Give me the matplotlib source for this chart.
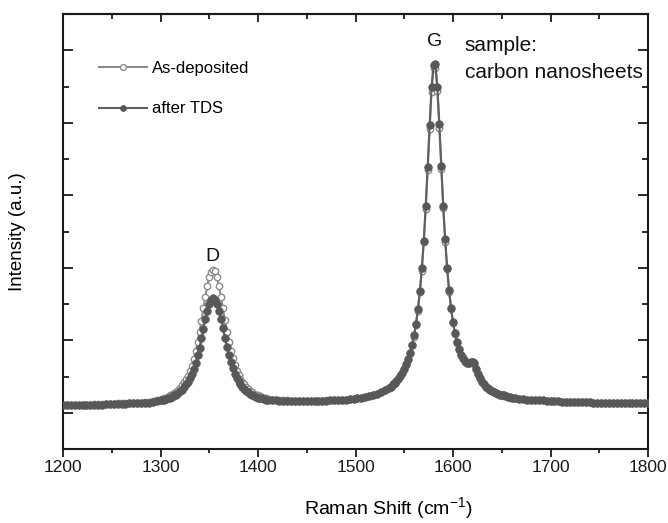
import numpy as np
import matplotlib
matplotlib.use("Agg")
import matplotlib.pyplot as plt
from matplotlib.ticker import MultipleLocator, NullFormatter

plt.rcParams['font.family'] = ['Liberation Sans', 'DejaVu Sans']
plt.rcParams['mathtext.fontset'] = 'custom'
plt.rcParams['mathtext.rm'] = 'Liberation Sans'

# Raman shift grid (cm^-1): coarser in flat parts, finer over the D and G bands
raman_shift = np.concatenate([
    np.arange(1200, 1297, 4),
    np.arange(1300, 1411, 2),
    np.arange(1414, 1535, 4),
    np.arange(1536, 1661, 2),
    np.arange(1664, 1801, 4),
])

as_deposited = [
    # 1200-1296
    1.11, 1.11, 1.11, 1.11, 1.11, 1.11, 1.11, 1.11, 1.12, 1.12, 1.12, 1.12, 1.12,
    1.12, 1.13, 1.13, 1.13, 1.13, 1.14, 1.14, 1.14, 1.15, 1.15, 1.16, 1.17,
    # 1300-1410
    1.18, 1.19, 1.20, 1.21, 1.22, 1.24, 1.25, 1.27, 1.29, 1.31, 1.34, 1.38, 1.42,
    1.47, 1.51, 1.57, 1.65, 1.74, 1.85, 1.97, 2.12, 2.27, 2.44, 2.60, 2.75, 2.87,
    2.94, 2.97, 2.95, 2.87, 2.75, 2.60, 2.44, 2.28, 2.12, 1.97, 1.85, 1.75, 1.66,
    1.58, 1.52, 1.47, 1.43, 1.39, 1.35, 1.33, 1.30, 1.28, 1.26, 1.25, 1.24, 1.23,
    1.21, 1.21, 1.20, 1.19,
    # 1414-1534
    1.18, 1.18, 1.17, 1.17, 1.17, 1.16, 1.16, 1.16, 1.16, 1.16, 1.16, 1.16, 1.16,
    1.16, 1.17, 1.17, 1.17, 1.17, 1.18, 1.18, 1.19, 1.19, 1.20, 1.21, 1.22, 1.23,
    1.24, 1.26, 1.28, 1.31, 1.34,
    # 1536-1660
    1.36, 1.38, 1.41, 1.44, 1.47, 1.51, 1.55, 1.60, 1.66, 1.73, 1.82, 1.93, 2.05,
    2.21, 2.41, 2.66, 2.96, 3.35, 3.81, 4.35, 4.92, 5.43, 5.75, 5.75, 5.44, 4.93,
    4.36, 3.82, 3.36, 2.98, 2.67, 2.43, 2.24, 2.08, 1.96, 1.87, 1.79, 1.74, 1.70,
    1.68, 1.68, 1.70, 1.70, 1.67, 1.61, 1.54, 1.48, 1.43, 1.39, 1.36, 1.33, 1.31,
    1.30, 1.28, 1.27, 1.26, 1.25, 1.24, 1.23, 1.23, 1.22, 1.22, 1.21,
    # 1664-1800
    1.20, 1.19, 1.19, 1.18, 1.18, 1.17, 1.17, 1.17, 1.16, 1.16, 1.16, 1.16, 1.15,
    1.15, 1.15, 1.15, 1.15, 1.15, 1.15, 1.15, 1.14, 1.14, 1.14, 1.14, 1.14, 1.14,
    1.14, 1.14, 1.14, 1.14, 1.14, 1.14, 1.14, 1.14, 1.14,
]

after_tds = [
    # 1200-1296
    1.11, 1.11, 1.11, 1.11, 1.11, 1.11, 1.11, 1.11, 1.11, 1.11, 1.11, 1.12, 1.12,
    1.12, 1.12, 1.12, 1.12, 1.13, 1.13, 1.13, 1.14, 1.14, 1.14, 1.15, 1.16,
    # 1300-1410
    1.17, 1.17, 1.18, 1.19, 1.20, 1.21, 1.22, 1.24, 1.25, 1.27, 1.30, 1.32, 1.36,
    1.39, 1.43, 1.48, 1.54, 1.61, 1.69, 1.79, 1.90, 2.03, 2.16, 2.29, 2.41, 2.50,
    2.56, 2.58, 2.56, 2.50, 2.41, 2.29, 2.17, 2.03, 1.91, 1.79, 1.70, 1.62, 1.54,
    1.48, 1.44, 1.40, 1.36, 1.33, 1.30, 1.28, 1.26, 1.25, 1.23, 1.22, 1.21, 1.20,
    1.20, 1.19, 1.18, 1.18,
    # 1414-1534
    1.17, 1.17, 1.16, 1.16, 1.16, 1.16, 1.16, 1.16, 1.16, 1.16, 1.16, 1.16, 1.16,
    1.16, 1.16, 1.17, 1.17, 1.17, 1.18, 1.18, 1.19, 1.19, 1.20, 1.21, 1.22, 1.23,
    1.24, 1.26, 1.28, 1.31, 1.34,
    # 1536-1660
    1.36, 1.39, 1.41, 1.44, 1.47, 1.51, 1.55, 1.61, 1.67, 1.74, 1.83, 1.94, 2.07,
    2.23, 2.43, 2.68, 2.99, 3.37, 3.85, 4.39, 4.97, 5.49, 5.80, 5.81, 5.49, 4.98,
    4.40, 3.85, 3.39, 3.00, 2.69, 2.45, 2.25, 2.10, 1.97, 1.88, 1.80, 1.75, 1.71,
    1.69, 1.69, 1.70, 1.70, 1.68, 1.61, 1.54, 1.48, 1.43, 1.39, 1.36, 1.34, 1.32,
    1.30, 1.28, 1.27, 1.26, 1.25, 1.24, 1.24, 1.23, 1.22, 1.22, 1.21,
    # 1664-1800
    1.20, 1.19, 1.19, 1.18, 1.18, 1.17, 1.17, 1.17, 1.16, 1.16, 1.16, 1.16, 1.15,
    1.15, 1.15, 1.15, 1.15, 1.15, 1.15, 1.15, 1.14, 1.14, 1.14, 1.14, 1.14, 1.14,
    1.14, 1.14, 1.14, 1.14, 1.14, 1.14, 1.14, 1.14, 1.14,
]

series_labels = ["As-deposited", "after TDS"]
x_ticks = [1200, 1300, 1400, 1500, 1600, 1700, 1800]
peak_labels = [("D", 1353, 3.16), ("G", 1581, 6.12)]

fig = plt.figure(figsize=(6.68, 5.23), dpi=100)
ax = fig.add_axes([63 / 668, 74 / 523, 585 / 668, 435 / 523])

line_a, = ax.plot(raman_shift, as_deposited, color='#8c8c8c', lw=1.5, marker='o',
                  ms=4.6, mfc='white', mec='#8c8c8c', mew=1.0, zorder=2)
line_t, = ax.plot(raman_shift, after_tds, color='#606060', lw=1.5, marker='o',
                  ms=5.4, mfc='#585858', mec='#585858', mew=0.6, zorder=3)

ax.set_xlim(1200, 1800)
ax.set_ylim(0.5, 6.5)

ax.set_xticks(x_ticks)
ax.xaxis.set_minor_locator(MultipleLocator(50))
ax.yaxis.set_major_locator(MultipleLocator(1))
ax.yaxis.set_minor_locator(MultipleLocator(0.5))
ax.yaxis.set_major_formatter(NullFormatter())

ax.tick_params(axis='x', which='major', direction='out', length=6, width=1.3,
               labelsize=12.5, pad=2, colors='#1a1a1a')
ax.tick_params(axis='x', which='minor', direction='out', length=3, width=1.3,
               colors='#1a1a1a')
ax.tick_params(axis='y', which='major', direction='in', length=7, width=1.3,
               left=True, right=True, labelleft=False, colors='#1a1a1a')
ax.tick_params(axis='y', which='minor', direction='in', length=4, width=1.3,
               left=True, right=True, colors='#1a1a1a')

sec = ax.secondary_xaxis('top')
sec.set_xticks(x_ticks)
sec.xaxis.set_minor_locator(MultipleLocator(50))
sec.tick_params(axis='x', which='major', direction='in', length=6, width=1.3,
                labeltop=False, colors='#1a1a1a')
sec.tick_params(axis='x', which='minor', direction='in', length=3.5, width=1.3,
                colors='#1a1a1a')
for sp in sec.spines.values():
    sp.set_linewidth(1.5)
    sp.set_color('#1a1a1a')

for sp in ax.spines.values():
    sp.set_linewidth(1.5)
    sp.set_color('#1a1a1a')

ax.set_xlabel(r'Raman Shift (cm$^{\mathregular{-1}}$)', fontsize=14, va='center')
ax.xaxis.set_label_coords((388 - 63) / 585, (449 - 509) / 435)
ax.set_ylabel('Intensity (a.u.)', fontsize=13.5, va='center')
ax.yaxis.set_label_coords((18 - 63) / 585, 0.5)

for txt, xv, yv in peak_labels:
    ax.text(xv, yv, txt, fontsize=14, ha='center', va='center', color='#111111')

ax.text(1612, 6.06, 'sample:', fontsize=15, ha='left', va='center', color='#111111')
ax.text(1612, 5.70, 'carbon nanosheets', fontsize=15, ha='left', va='center',
        color='#111111')

leg = ax.legend([line_a, line_t], series_labels, loc='upper left',
                bbox_to_anchor=(0.0615, 0.893), frameon=False, fontsize=12,
                numpoints=1, handlelength=2.9, handletextpad=0.3,
                labelspacing=1.55, borderpad=0, borderaxespad=0)
for h in leg.legend_handles:
    h.set_markersize(4.2)

fig.savefig('out.png', dpi=100)
